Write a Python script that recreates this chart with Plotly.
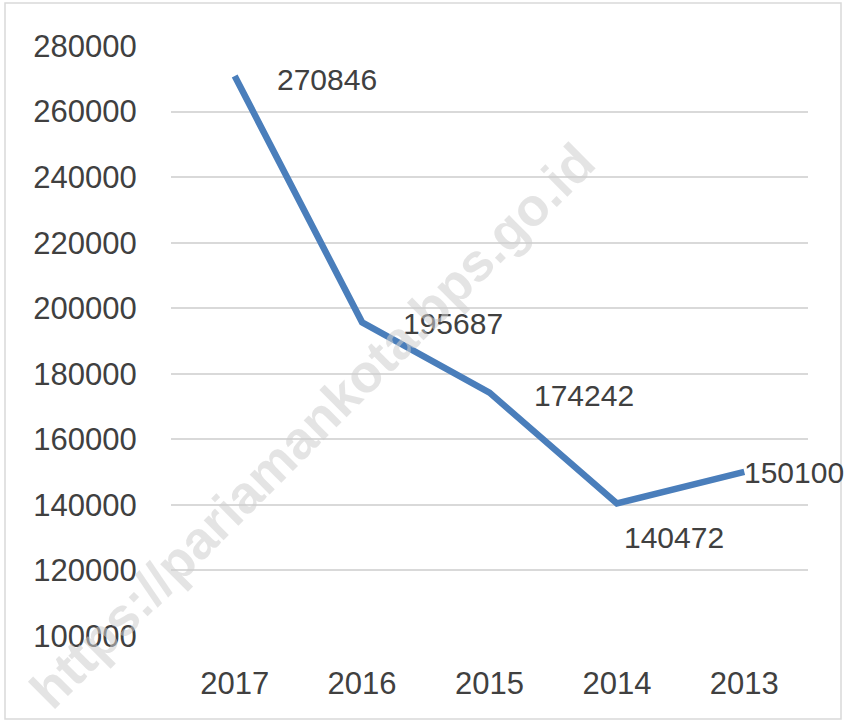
import plotly.graph_objects as go

years = ["2017", "2016", "2015", "2014", "2013"]
values = [270846, 195687, 174242, 140472, 150100]
label_offsets_x = [40, 39, 42, 5, -2]
label_offsets_y = [-3, -1, -3, -34, -1]
y_ticks = [100000, 120000, 140000, 160000, 180000, 200000, 220000, 240000, 260000, 280000]

FONT = "Liberation Sans"
TXT = "#404040"

fig = go.Figure()
fig.add_trace(go.Scatter(
    x=list(range(len(years))), y=values, mode="lines",
    line=dict(color="#4a7ebb", width=6.5),
    hoverinfo="skip",
))

for i, (v, dx, dy) in enumerate(zip(values, label_offsets_x, label_offsets_y)):
    fig.add_annotation(
        x=i, y=v, xref="x", yref="y", text=str(v), showarrow=False,
        xanchor="left", yanchor="middle", xshift=dx, yshift=dy,
        font=dict(family=FONT, size=30, color=TXT),
    )

# watermark
fig.add_annotation(
    x=(312 - 171) / 637, y=(636 - 425) / 590, xref="paper", yref="paper",
    text="<b>https://pariamankota.bps.go.id</b>", showarrow=False,
    xanchor="center", yanchor="middle",
    textangle=-45, font=dict(family=FONT, size=53, color="rgba(205,205,205,0.55)"),
)

# outer border
fig.add_shape(type="rect", xref="paper", yref="paper",
              x0=(5 - 171) / 637, x1=(841 - 171) / 637,
              y0=(636 - 719) / 590, y1=1 + (46 - 3) / 590,
              line=dict(color="#d9d9d9", width=1.5))

fig.update_layout(
    width=846, height=723,
    margin=dict(l=171, r=38, t=46, b=87),
    paper_bgcolor="white", plot_bgcolor="white",
    showlegend=False,
    font=dict(family=FONT, color=TXT, size=30),
    xaxis=dict(
        range=[-0.5, len(years) - 0.5],
        tickvals=list(range(len(years))), ticktext=years,
        showgrid=False, zeroline=False, showline=False,
        ticks="outside", ticklen=20, tickcolor="rgba(0,0,0,0)",
        tickfont=dict(family=FONT, size=31, color=TXT),
    ),
    yaxis=dict(
        range=[100000, 280000], tickvals=y_ticks,
        ticktext=[str(t) for t in y_ticks],
        showgrid=True, gridcolor="#d9d9d9", gridwidth=1.5,
        zeroline=False, showline=False,
        ticks="outside", ticklen=27, tickcolor="rgba(0,0,0,0)",
        tickfont=dict(family=FONT, size=31, color=TXT),
    ),
)

fig.write_html(
    "out.html",
    config={"displayModeBar": False},
    post_script="document.body.style.margin='0';document.body.style.overflow='hidden';",
)
